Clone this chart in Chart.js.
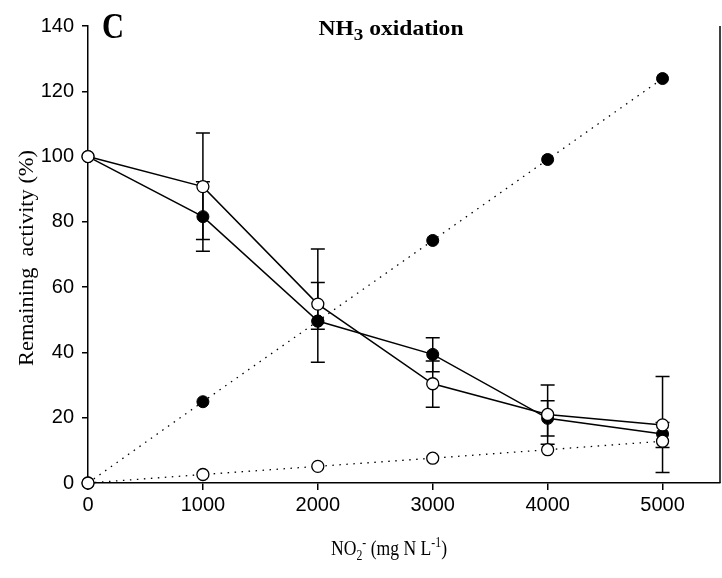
<!DOCTYPE html>
<html>
<head>
<meta charset="utf-8">
<script src="https://cdn.jsdelivr.net/npm/chart.js@4"></script>
<style>
html,body{margin:0;padding:0;background:#fff;}
canvas{display:block;}
</style>
</head>
<body>
<canvas id="c" width="722" height="578"></canvas>
<script>
// ---- data ----
const concentrations = [0, 1000, 2000, 3000, 4000, 5000];
const filledMeasured = [100, 81.6, 49.6, 39.4, 19.8, 15.0];
const filledLow      = [null, 71.0, 37.0, 34.1, 14.4, 10.9];
const filledHigh     = [null, 92.3, 61.4, 44.5, 25.2, 18.5];
const openMeasured   = [100, 90.8, 54.8, 30.4, 21.0, 17.8];
const openLow        = [null, 74.6, 47.1, 23.2, 11.9, 3.2];
const openHigh       = [null, 107.2, 71.7, 37.4, 30.0, 32.6];
const filledDotted   = [0, 24.9, 49.6, 74.3, 99.1, 123.9];
const openDotted     = [0, 2.6, 5.1, 7.6, 10.2, 12.8];
const xTicks = [0, 1000, 2000, 3000, 4000, 5000];
const yTicks = [0, 20, 40, 60, 80, 100, 120, 140];

const pts = (ys) => concentrations.map((x, i) => ({x: x, y: ys[i]}));

const serif = '"Liberation Serif", "Times New Roman", serif';
const sans = '"Liberation Sans", Arial, sans-serif';

// segs: [text, fontSize, dy, bold]; draws centred at x (or left), scaled to targetWidth
function drawRich(ctx, segs, x, y, align, targetWidth) {
  let total = 0;
  segs.forEach(s => { ctx.font = (s[3] ? 'bold ' : '') + s[1] + 'px ' + serif; total += ctx.measureText(s[0]).width; });
  const k = targetWidth ? targetWidth / total : 1;
  ctx.save();
  const startX = align === 'center' ? x - total * k / 2 : x;
  ctx.translate(startX, y);
  ctx.scale(k, 1);
  ctx.textAlign = 'left';
  let cx = 0;
  segs.forEach(s => {
    ctx.font = (s[3] ? 'bold ' : '') + s[1] + 'px ' + serif;
    ctx.fillText(s[0], cx, s[2]);
    cx += ctx.measureText(s[0]).width;
  });
  ctx.restore();
}

const errorBars = {
  id: 'errorBars',
  beforeDatasetsDraw(chart) {
    const ctx = chart.ctx, xs = chart.scales.x, ys = chart.scales.y;
    ctx.save();
    ctx.strokeStyle = '#000';
    ctx.lineWidth = 1.5;
    const sets = [[filledLow, filledHigh], [openLow, openHigh]];
    sets.forEach(([lo, hi]) => {
      concentrations.forEach((c, i) => {
        if (lo[i] == null) return;
        const px = xs.getPixelForValue(c);
        const y1 = ys.getPixelForValue(lo[i]);
        const y2 = ys.getPixelForValue(hi[i]);
        ctx.beginPath();
        ctx.moveTo(px, y1); ctx.lineTo(px, y2);
        ctx.moveTo(px - 7, y1); ctx.lineTo(px + 7, y1);
        ctx.moveTo(px - 7, y2); ctx.lineTo(px + 7, y2);
        ctx.stroke();
      });
    });
    ctx.restore();
  }
};

const decorations = {
  id: 'decorations',
  afterDraw(chart) {
    const ctx = chart.ctx, a = chart.chartArea;
    ctx.save();
    ctx.strokeStyle = '#000';
    ctx.lineWidth = 1.5;
    ctx.beginPath();
    ctx.moveTo(a.right, a.top);
    ctx.lineTo(a.right, a.bottom);
    ctx.stroke();
    ctx.fillStyle = '#000';
    ctx.textBaseline = 'alphabetic';
    // panel letter
    drawRich(ctx, [['C', 36, 0, true]], 102, 38, 'left', 22);
    // title
    drawRich(ctx, [['NH', 21, 0, true], ['3', 17, 5, true], [' oxidation', 21, 0, true]], 391, 35, 'center', 145);
    // x title
    drawRich(ctx, [['NO', 21, 0, false], ['2', 14, 5, false], ['-', 14, -8, false], [' (mg N L', 21, 0, false], ['-1', 14, -8, false], [')', 21, 0, false]], 389, 555, 'center', 116);
    // y title
    ctx.translate(33, 258);
    ctx.rotate(-Math.PI / 2);
    drawRich(ctx, [['Remaining  activity (%)', 22, 0, false]], 0, 0, 'center', 216);
    ctx.restore();
  }
};

new Chart(document.getElementById('c'), {
  type: 'line',
  data: {
    datasets: [
      { data: pts(openMeasured), borderColor: '#000', borderWidth: 1.5, pointRadius: 6, pointBackgroundColor: '#fff', pointBorderColor: '#000', pointBorderWidth: 1.3, tension: 0, clip: false },
      { data: pts(openDotted), borderColor: '#000', borderWidth: 1.3, borderDash: [1.5, 5.5], pointRadius: 6, pointBackgroundColor: '#fff', pointBorderColor: '#000', pointBorderWidth: 1.3, tension: 0, clip: false },
      { data: pts(filledMeasured), borderColor: '#000', borderWidth: 1.5, pointRadius: 6, pointBackgroundColor: '#000', pointBorderColor: '#000', pointBorderWidth: 1, tension: 0, clip: false },
      { data: pts(filledDotted), borderColor: '#000', borderWidth: 1.3, borderDash: [1.5, 5.5], pointRadius: 6, pointBackgroundColor: '#000', pointBorderColor: '#000', pointBorderWidth: 1, tension: 0, clip: false }
    ]
  },
  options: {
    responsive: false,
    animation: false,
    layout: { autoPadding: false, padding: { top: 26, right: 2, left: 0, bottom: 0 } },
    plugins: { legend: { display: false }, tooltip: { enabled: false } },
    scales: {
      x: {
        type: 'linear', min: 0, max: 5500,
        afterBuildTicks(s) { s.ticks = xTicks.map(v => ({value: v})); },
        afterFit(s) { s.height = 95; s.paddingLeft = 0; s.paddingRight = 0; },
        grid: { drawOnChartArea: false, drawTicks: true, tickLength: 7, color: '#000', lineWidth: 1.5 },
        border: { display: true, color: '#000', width: 1.5 },
        ticks: { color: '#000', font: { family: sans, size: 20 }, padding: 3, maxRotation: 0, callback: v => String(v) }
      },
      y: {
        type: 'linear', min: 0, max: 140,
        afterBuildTicks(s) { s.ticks = yTicks.map(v => ({value: v})); },
        afterFit(s) { s.width = 88; s.paddingTop = 0; s.paddingBottom = 0; },
        grid: { drawOnChartArea: false, drawTicks: true, tickLength: 6, color: '#000', lineWidth: 1.5 },
        border: { display: true, color: '#000', width: 1.5 },
        ticks: { color: '#000', font: { family: sans, size: 20 }, padding: 8, callback: v => String(v) }
      }
    }
  },
  plugins: [errorBars, decorations]
});
</script>
</body>
</html>
